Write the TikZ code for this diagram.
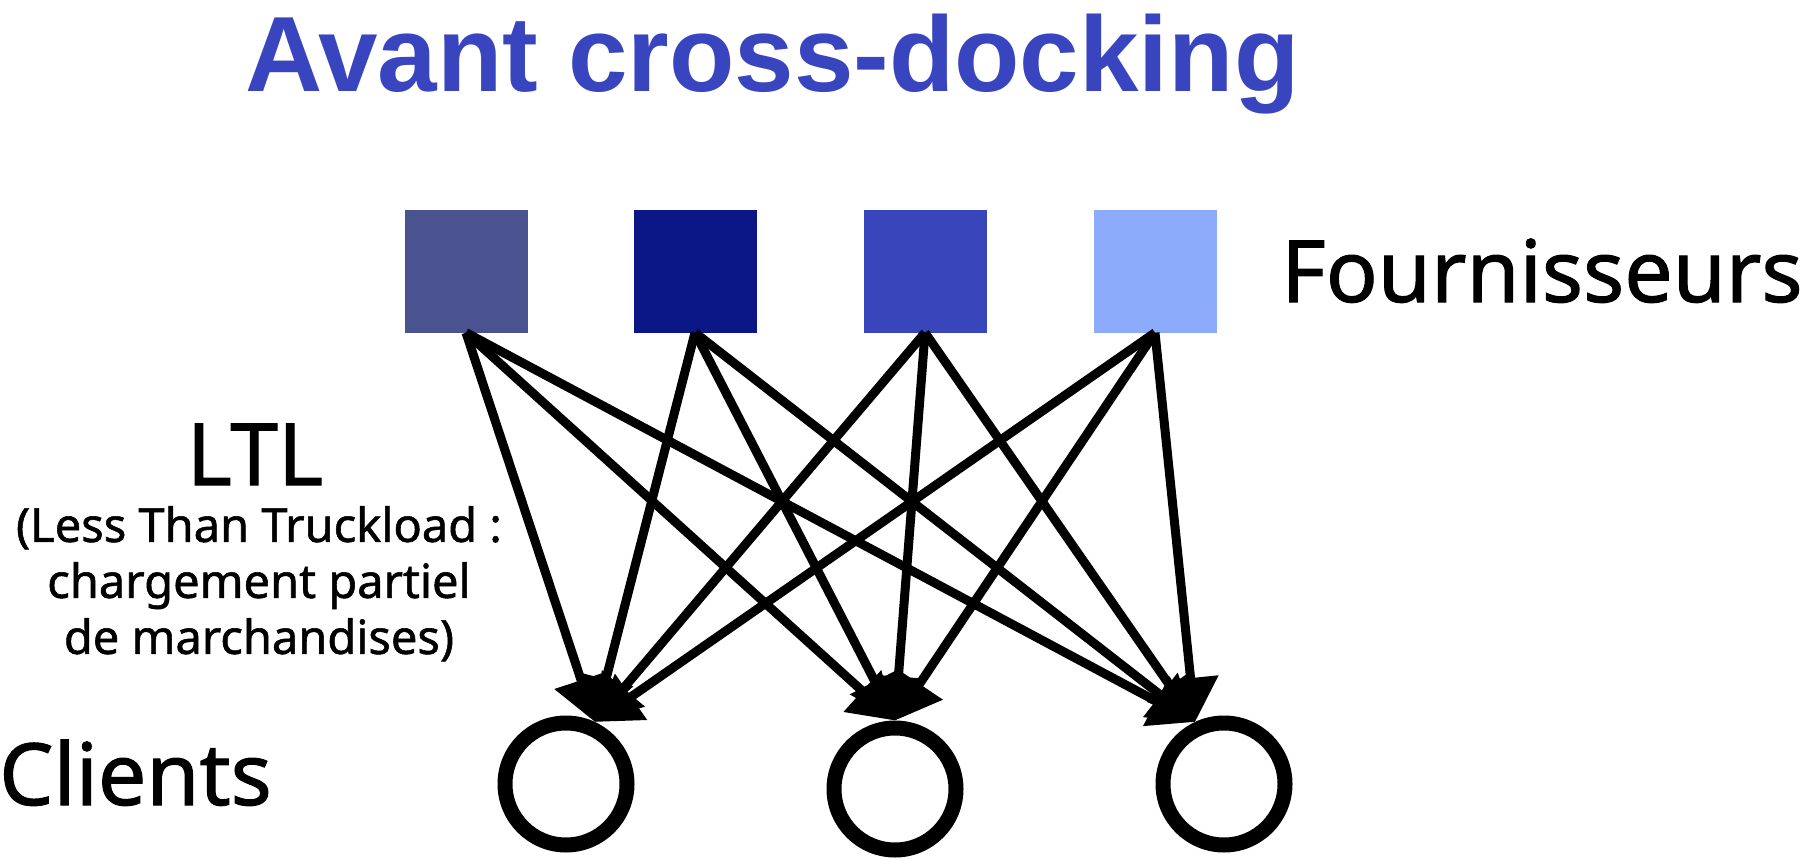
\documentclass[tikz,border=0pt]{standalone}
\usepackage{fontspec}
\setmainfont{Noto Sans}[FakeBold=1.2]
\newfontfamily\titlefamily{Liberation Sans}
\usetikzlibrary{arrows.meta}
\definecolor{titleblue}{RGB}{57,69,190}
\definecolor{supA}{RGB}{74,82,143}
\definecolor{supB}{RGB}{11,23,135}
\definecolor{supC}{RGB}{57,69,187}
\definecolor{supD}{RGB}{141,171,251}
\tikzset{
  supbox/.style={rectangle, minimum size=123pt, inner sep=0pt, draw=none},
  clientnode/.style={circle, draw=black, line width=15pt, minimum size=122pt, inner sep=0pt},
  flow/.style={line width=9pt, draw=black, -{Triangle[length=44pt,width=54pt]}},
  bigtext/.style={inner sep=0pt, font=\fontsize{86}{100}\selectfont},
  smalltext/.style={inner sep=0pt, align=center, font=\fontsize{47}{56}\selectfont},
}
\begin{document}
\begin{tikzpicture}[x=1pt,y=-1pt]
\useasboundingbox (0,0) rectangle (1800,859);
\node[inner sep=0pt, anchor=base west, text=titleblue, font=\titlefamily\bfseries\fontsize{107}{120}\selectfont] (title) at (245,92) {Avant cross-docking};
\node[supbox, fill=supA] (s1) at (466,271) {};
\node[supbox, fill=supB] (s2) at (695,271) {};
\node[supbox, fill=supC] (s3) at (925,271) {};
\node[supbox, fill=supD] (s4) at (1155,271) {};
\node[bigtext, anchor=base west] (four) at (1281,302) {Fournisseurs};
\node[clientnode] (k1) at (566,784) {};
\node[clientnode] (k2) at (895,789) {};
\node[clientnode] (k3) at (1224,784) {};
\node[bigtext, anchor=base west] (cli) at (-1,805) {Clients};
\node[bigtext, anchor=base] (ltl) at (255,485) {LTL};
\node[smalltext, anchor=north] (ltldesc) at (259,506) {(Less Than Truckload :\\chargement partiel\\de marchandises)};
\foreach \s in {s1,s2,s3,s4} {
  \draw[flow] (\s.south) -- (k1.65);
  \draw[flow] (\s.south) -- (k2.north);
  \draw[flow] (\s.south) -- (k3.115);
}
\end{tikzpicture}
\end{document}
